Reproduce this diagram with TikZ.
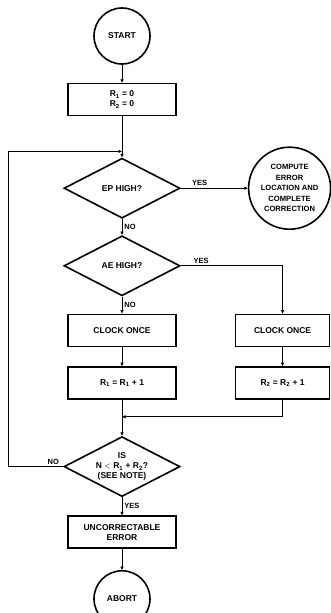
\documentclass[tikz,border=0pt]{standalone}
\usepackage{fontspec}
\setmainfont{Liberation Sans}
\usepackage{tikz}
\usetikzlibrary{arrows.meta, positioning, shapes.geometric}

\begin{document}
\begin{tikzpicture}[
  x=1pt, y=-1pt,
  font=\bfseries\fontsize{8.5}{10}\selectfont,
  term/.style={circle, draw=black, line width=1.6pt, minimum size=56pt,
               inner sep=0pt, align=center},
  proc/.style={rectangle, draw=black, line width=1.6pt, minimum width=108pt,
               minimum height=32pt, align=center, inner sep=2pt},
  dec/.style={diamond, draw=black, line width=1.6pt, minimum width=116pt,
              minimum height=60pt, aspect=2, inner sep=0pt, align=center},
  arr/.style={-{Triangle[length=3.5pt, width=3pt]}, line width=0.8pt},
  lbl/.style={font=\bfseries\fontsize{7.5}{8}\selectfont, inner sep=2pt}
]
\useasboundingbox (0,0) rectangle (331,613);

\node[term] (start) at (122,36) {START};
\node[proc, below=18pt of start] (init) {R\textsubscript{1} = 0\\R\textsubscript{2} = 0};
\node[dec, below=41pt of init] (ep) {EP HIGH?};
\node[term, minimum size=82pt, font=\bfseries\fontsize{7.6}{10.5}\selectfont,
      right=67pt of ep] (fix) {COMPUTE\\ERROR\\LOCATION AND\\COMPLETE\\CORRECTION};
\node[dec, below=16pt of ep] (ae) {AE HIGH?};
\node[proc, below=17pt of ae] (clk1) {CLOCK ONCE};
\node[proc, below=19pt of clk1] (inc1) {R\textsubscript{1} = R\textsubscript{1} + 1};
\node[proc, minimum width=94pt, right=58pt of clk1] (clk2) {CLOCK ONCE};
\node[proc, minimum width=94pt, below=19pt of clk2] (inc2) {R\textsubscript{2} = R\textsubscript{2} + 1};
\node[dec, below=36pt of inc1] (chk) {IS\\N $<$ R\textsubscript{1} + R\textsubscript{2}?\\(SEE NOTE)};
\node[proc, below=18pt of chk] (err) {UNCORRECTABLE\\ERROR};
\node[term, below=21pt of err] (abort) {ABORT};

\coordinate (join) at ([yshift=-35pt]init.south);
\coordinate (merge) at ([yshift=-17pt]inc1.south);

\draw[arr] (start) -- (init);
\draw[arr] (init) -- (ep);
\draw[arr] (ep) -- node[lbl, near start, above, xshift=2pt] {YES} (fix);
\draw[arr] (ep) -- node[lbl, midway, right] {NO} (ae);
\draw[arr] (ae.east) -| node[lbl, pos=0.1, above] {YES} (clk2.north);
\draw[arr] (ae) -- node[lbl, midway, right] {NO} (clk1);
\draw[arr] (clk1) -- (inc1);
\draw[arr] (clk2) -- (inc2);
\draw[arr] (inc2.south) |- (merge);
\draw[arr] (inc1) -- (chk);
\draw[arr] (chk.west) -- node[lbl, pos=0.18, above] {NO} ++(-55pt,0) |- (join);
\draw[arr] (chk) -- node[lbl, midway, right] {YES} (err);
\draw[arr] (err) -- (abort);
\end{tikzpicture}
\end{document}
